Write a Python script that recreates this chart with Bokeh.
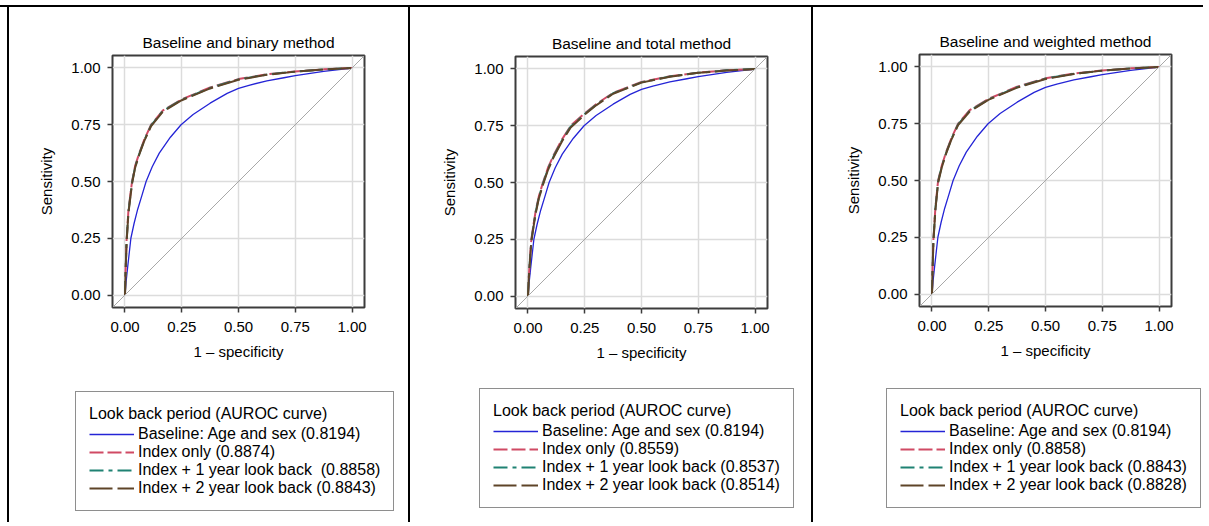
from bokeh.plotting import figure
from bokeh.models import (FixedTicker, NumeralTickFormatter, Slope, Legend,
                          LegendItem, Range1d, Div)
from bokeh.layouts import row, column
from bokeh.embed import file_html
from bokeh.resources import INLINE

FONT = "Liberation Sans"

# ---------------- data ----------------
tick_values = [0.0, 0.25, 0.5, 0.75, 1.0]

titles = ["Baseline and binary method",
          "Baseline and total method",
          "Baseline and weighted method"]

legend_title = "Look back period (AUROC curve)"

labels_binary = ["Baseline: Age and sex (0.8194)",
                 "Index only (0.8874)",
                 "Index + 1 year look back  (0.8858)",
                 "Index + 2 year look back (0.8843)"]
labels_total = ["Baseline: Age and sex (0.8194)",
                "Index only (0.8559)",
                "Index + 1 year look back (0.8537)",
                "Index + 2 year look back (0.8514)"]
labels_weighted = ["Baseline: Age and sex (0.8194)",
                   "Index only (0.8858)",
                   "Index + 1 year look back (0.8843)",
                   "Index + 2 year look back (0.8828)"]

# Baseline (age and sex) ROC curve - same in every panel
base_fpr = [0.0, 0.005, 0.012, 0.026, 0.040, 0.056, 0.075, 0.093, 0.120, 0.151,
            0.200, 0.247, 0.300, 0.375, 0.450, 0.500, 0.550, 0.625, 0.700, 0.750,
            0.875, 1.0]
base_tpr = [0.0, 0.060, 0.125, 0.250, 0.315, 0.378, 0.440, 0.500, 0.565, 0.625,
            0.695, 0.750, 0.795, 0.845, 0.888, 0.910, 0.925, 0.943, 0.957, 0.966,
            0.985, 1.0]

# Binary method
bin_fpr = [0.0, 0.003, 0.007, 0.015, 0.031, 0.045, 0.063, 0.085, 0.115, 0.166,
           0.250, 0.375, 0.500, 0.625, 0.750, 0.875, 1.0]
bin_idx = [0.0, 0.120, 0.240, 0.370, 0.500, 0.570, 0.625, 0.685, 0.750, 0.812,
           0.862, 0.914, 0.951, 0.972, 0.985, 0.994, 1.0]
bin_y1 = [0.0, 0.115, 0.235, 0.365, 0.495, 0.566, 0.622, 0.682, 0.747, 0.810,
          0.860, 0.912, 0.950, 0.971, 0.984, 0.994, 1.0]
bin_y2 = [0.0, 0.110, 0.230, 0.360, 0.490, 0.562, 0.619, 0.679, 0.744, 0.807,
          0.858, 0.910, 0.948, 0.970, 0.984, 0.993, 1.0]

# Total method
tot_fpr = [0.0, 0.004, 0.009, 0.015, 0.024, 0.034, 0.048, 0.066, 0.088, 0.115,
           0.150, 0.188, 0.250, 0.300, 0.375, 0.500, 0.625, 0.750, 0.875, 1.0]
tot_idx = [0.0, 0.090, 0.170, 0.250, 0.312, 0.375, 0.440, 0.500, 0.565, 0.625,
           0.690, 0.750, 0.805, 0.845, 0.895, 0.943, 0.968, 0.984, 0.994, 1.0]
tot_y1 = [0.0, 0.086, 0.165, 0.245, 0.307, 0.370, 0.435, 0.495, 0.560, 0.620,
          0.686, 0.746, 0.802, 0.842, 0.893, 0.941, 0.967, 0.983, 0.994, 1.0]
tot_y2 = [0.0, 0.082, 0.160, 0.240, 0.302, 0.365, 0.430, 0.490, 0.555, 0.616,
          0.682, 0.742, 0.799, 0.840, 0.891, 0.940, 0.966, 0.983, 0.993, 1.0]

# Weighted method
wgt_fpr = [0.0, 0.003, 0.006, 0.015, 0.027, 0.043, 0.062, 0.085, 0.115, 0.166,
           0.250, 0.375, 0.500, 0.625, 0.750, 0.875, 1.0]
wgt_idx = [0.0, 0.125, 0.235, 0.380, 0.500, 0.565, 0.625, 0.685, 0.750, 0.810,
           0.860, 0.913, 0.950, 0.971, 0.985, 0.994, 1.0]
wgt_y1 = [0.0, 0.120, 0.230, 0.375, 0.495, 0.561, 0.621, 0.682, 0.747, 0.807,
          0.858, 0.911, 0.949, 0.970, 0.984, 0.994, 1.0]
wgt_y2 = [0.0, 0.115, 0.225, 0.370, 0.490, 0.557, 0.618, 0.679, 0.744, 0.804,
          0.856, 0.909, 0.947, 0.969, 0.984, 0.993, 1.0]

# ---------------- styling ----------------
C_BASE = "#2424d6"
C_IDX = "#d04a64"
C_Y1 = "#1f8273"
C_Y2 = "#5e4428"
FRAME = 252
PLOT_H = 365
LEG_H = 150


def add_lines(p, fpr, idx, y1, y2):
    r0 = p.line(base_fpr, base_tpr, line_color=C_BASE, line_width=1.3)
    r1 = p.line(fpr, idx, line_color=C_IDX, line_width=2, line_dash="14 4")
    r2 = p.line(fpr, y1, line_color=C_Y1, line_width=2, line_dash="14 5 4 5")
    r3 = p.line(fpr, y2, line_color=C_Y2, line_width=2, line_dash="23 5")
    return [r0, r1, r2, r3]


def style_legend(leg):
    leg.title_text_font = FONT
    leg.title_text_font_size = "16px"
    leg.title_text_font_style = "normal"
    leg.title_text_color = "black"
    leg.title_standoff = 2
    leg.label_text_font = FONT
    leg.label_text_font_size = "16px"
    leg.label_text_color = "black"
    leg.label_standoff = 4
    leg.label_height = 18
    leg.glyph_height = 18
    leg.glyph_width = 45
    leg.spacing = 0
    leg.padding = 13
    leg.margin = 0
    leg.border_line_color = "#1e1e1e"
    leg.border_line_width = 1.5
    leg.background_fill_color = "white"
    leg.background_fill_alpha = 1


def make_plot(title, width, fl, ft, fpr, idx, y1, y2):
    fr = width - fl - FRAME
    fb = PLOT_H - ft - FRAME
    p = figure(width=width, height=PLOT_H, output_backend="svg", toolbar_location=None,
               x_range=Range1d(-0.055, 1.055), y_range=Range1d(-0.055, 1.055),
               min_border_left=fl, min_border_right=fr,
               min_border_top=ft, min_border_bottom=fb, title=title)
    p.background_fill_color = "white"
    p.border_fill_color = "white"
    p.outline_line_color = "#3c3c3c"
    p.outline_line_width = 2

    p.title.text_font = FONT
    p.title.text_font_size = "15.5px"
    p.title.text_font_style = "normal"
    p.title.text_color = "black"
    p.title.align = "center"
    p.title.standoff = 10

    for ax in (p.xaxis[0], p.yaxis[0]):
        ax.ticker = FixedTicker(ticks=tick_values)
        ax.formatter = NumeralTickFormatter(format="0.00")
        ax.axis_line_color = None
        ax.major_tick_line_color = "#3c3c3c"
        ax.major_tick_line_width = 1.5
        ax.major_tick_in = 0
        ax.major_tick_out = 5
        ax.minor_tick_line_color = None
        ax.major_label_text_font = FONT
        ax.major_label_text_font_size = "15px"
        ax.major_label_text_color = "black"
        ax.axis_label_text_font = FONT
        ax.axis_label_text_font_size = "15px"
        ax.axis_label_text_font_style = "normal"
        ax.axis_label_text_color = "black"
    p.xaxis.axis_label = "1 \u2013 specificity"
    p.yaxis.axis_label = "Sensitivity"
    p.xaxis.major_label_standoff = 9
    p.yaxis.major_label_standoff = 7
    p.xaxis.axis_label_standoff = 8
    p.yaxis.axis_label_standoff = 13

    for g in (p.xgrid[0], p.ygrid[0]):
        g.ticker = FixedTicker(ticks=tick_values)
        g.grid_line_color = "#dcdcdc"
        g.grid_line_width = 1.5

    diag = Slope(gradient=1, y_intercept=0, line_color="#a8a8a8", line_width=1)
    p.add_layout(diag)
    add_lines(p, fpr, idx, y1, y2)
    return p


def make_legend_fig(width, fpr, idx, y1, y2, labels, leg_left, leg_bottom):
    # axis-less figure holding the legend box; its ranges keep the curves out of view
    p = figure(width=width, height=LEG_H, output_backend="svg", toolbar_location=None,
               x_range=Range1d(5, 6), y_range=Range1d(5, 6),
               x_axis_location=None, y_axis_location=None, title=None,
               min_border=0, min_border_left=0, min_border_right=0,
               min_border_top=0, min_border_bottom=0)
    p.outline_line_color = None
    p.background_fill_color = "white"
    p.border_fill_color = "white"
    for g in p.grid:
        g.visible = False
    rs = add_lines(p, fpr, idx, y1, y2)
    items = [LegendItem(label=labels[i], renderers=[r]) for i, r in enumerate(rs)]
    leg = Legend(items=items, location=(leg_left, leg_bottom), title=legend_title)
    style_legend(leg)
    p.add_layout(leg, "center")
    return p


def panel(title, width, fl, ft, fpr, idx, y1, y2, labels, leg_left, leg_bottom):
    plot = make_plot(title, width, fl, ft, fpr, idx, y1, y2)
    legend_fig = make_legend_fig(width, fpr, idx, y1, y2, labels, leg_left, leg_bottom)
    return column(row(plot, spacing=0), row(legend_fig, spacing=0), spacing=0)


def block(w, h, color=None):
    styles = {"padding": "0px"}
    if color:
        styles["background-color"] = color
    return Div(text="", width=w, height=h, margin=0, styles=styles)


W1, W2, W3 = 399, 401, 390
H = PLOT_H + LEG_H

panel1 = panel(titles[0], W1, 103, 48, bin_fpr, bin_idx, bin_y1, bin_y2,
               labels_binary, 66, 11)
panel2 = panel(titles[1], W2, 105, 49, tot_fpr, tot_idx, tot_y1, tot_y2,
               labels_total, 69, 14)
panel3 = panel(titles[2], W3, 106, 47, wgt_fpr, wgt_idx, wgt_y1, wgt_y2,
               labels_weighted, 73, 14)

total_w = 7 + 2 + W1 + 2 + W2 + 2 + W3
body = row(block(7, H), block(2, H, "black"), panel1, block(2, H, "black"), panel2,
           block(2, H, "black"), panel3, spacing=0)
layout = column(block(total_w, 5), block(total_w, 2, "black"), body, spacing=0)

open("out.html", "w").write(file_html(layout, INLINE))
